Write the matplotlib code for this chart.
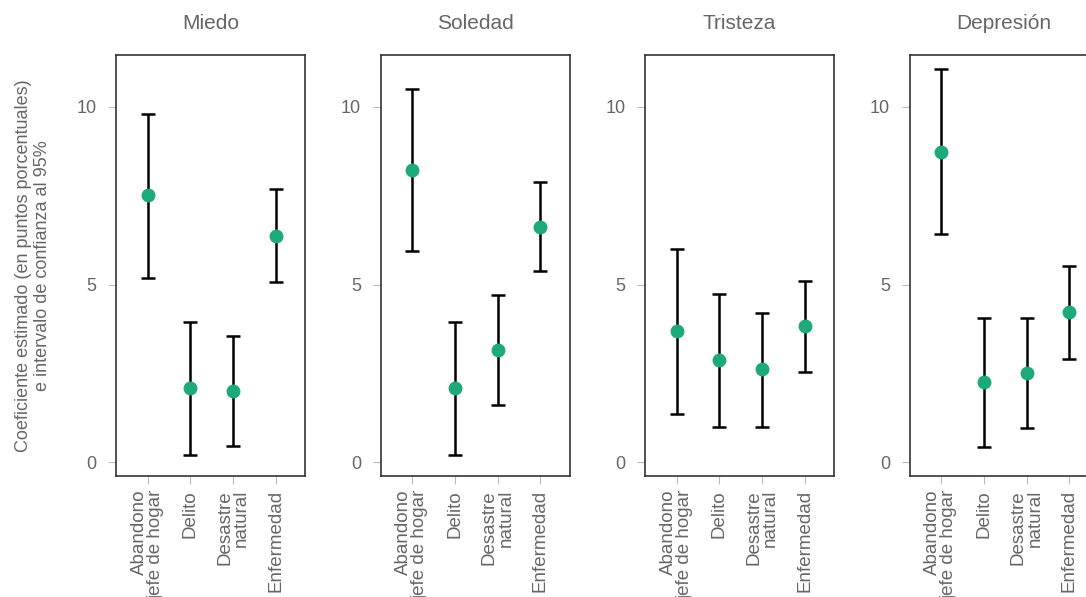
import numpy as np
import matplotlib
import matplotlib.pyplot as plt

panels = ["Miedo", "Soledad", "Tristeza", "Depresión"]
categories = ["Abandono\njefe de hogar", "Delito", "Desastre\nnatural", "Enfermedad"]

estimate = [
	[7.52, 2.08, 2.00, 6.37],
	[8.23, 2.08, 3.15, 6.62],
	[3.69, 2.87, 2.62, 3.83],
	[8.73, 2.25, 2.51, 4.23],
]
lower = [
	[5.18, 0.20, 0.45, 5.07],
	[5.94, 0.20, 1.61, 5.38],
	[1.35, 0.99, 0.99, 2.54],
	[6.42, 0.42, 0.96, 2.90],
]
upper = [
	[9.80, 3.94, 3.55, 7.69],
	[10.51, 3.94, 4.70, 7.89],
	[6.00, 4.73, 4.20, 5.10],
	[11.07, 4.06, 4.06, 5.52],
]

green = "#1ea97a"
grey = "#666666"

matplotlib.rcParams["font.family"] = ["Liberation Sans", "DejaVu Sans"]
matplotlib.rcParams["axes.unicode_minus"] = False

W, H = 1086, 597
fig = plt.figure(figsize=(W / 100, H / 100), dpi=100)

x = np.arange(1, 5)
for i, name in enumerate(panels):
	left = 116 + i * 264.5
	ax = fig.add_axes([left / W, (H - 476) / H, 189 / W, 421 / H])
	est = np.array(estimate[i])
	err = [est - np.array(lower[i]), np.array(upper[i]) - est]
	ax.errorbar(x, est, yerr=err, fmt="none", ecolor="black", elinewidth=1.8,
		capsize=5, capthick=1.8, zorder=2)
	ax.plot(x, est, "o", color=green, markersize=9, zorder=3)

	ax.set_xlim(0.26, 4.68)
	ax.set_ylim(-0.39, 11.46)
	ax.set_yticks([0, 5, 10])
	ax.set_xticks(x)
	ax.set_xticklabels(categories, rotation=90, ha="center", va="top",
		multialignment="right", fontsize=13.5, color=grey, linespacing=0.95)
	ax.tick_params(axis="y", length=6, color="#bbbbbb", labelsize=13,
		labelcolor=grey, pad=8)
	ax.tick_params(axis="x", length=6, color="#bbbbbb", pad=4)
	for s in ax.spines.values():
		s.set_color("#333333")
		s.set_linewidth(1.2)
	ax.set_title(name, fontsize=15, color=grey, pad=19)

	if i == 0:
		ax.set_ylabel("Coeficiente estimado (en puntos porcentuales)\ne intervalo de confianza al 95%",
			fontsize=13, color=grey, labelpad=18, linespacing=1.15)

plt.savefig("out.png", dpi=100)
